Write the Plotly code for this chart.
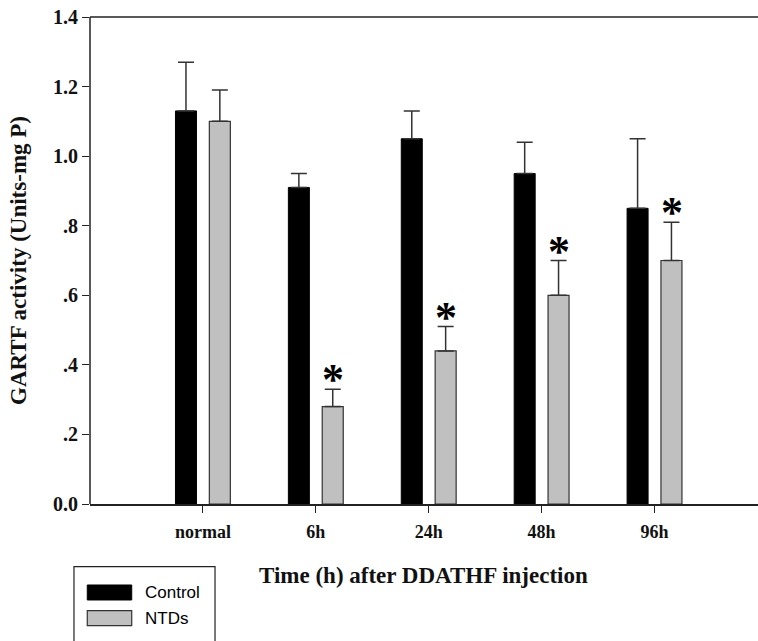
import plotly.graph_objects as go

categories = ["normal", "6h", "24h", "48h", "96h"]
control = [1.13, 0.91, 1.05, 0.95, 0.85]
control_err = [0.14, 0.04, 0.08, 0.09, 0.20]
ntds = [1.10, 0.28, 0.44, 0.60, 0.70]
ntds_err = [0.09, 0.05, 0.07, 0.10, 0.11]
significance = ["", "*", "*", "*", "*"]
y_tickvals = [0.0, 0.2, 0.4, 0.6, 0.8, 1.0, 1.2, 1.4]
y_ticktext = ["0.0", ".2", ".4", ".6", ".8", "1.0", "1.2", "1.4"]

SERIF = "Liberation Serif, Times New Roman, serif"
SANS = "Liberation Sans, Arial, sans-serif"

fig = go.Figure()
fig.add_trace(go.Bar(
    x=categories, y=control, name="Control",
    marker=dict(color="#000000", line=dict(color="#000000", width=1)),
    error_y=dict(type="data", symmetric=False, array=control_err,
                 arrayminus=[0] * len(control_err),
                 color="#333333", thickness=1.5, width=8),
    showlegend=False,
))
fig.add_trace(go.Bar(
    x=categories, y=ntds, name="NTDs",
    marker=dict(color="#c0c0c0", line=dict(color="#333333", width=1.2)),
    error_y=dict(type="data", symmetric=False, array=ntds_err,
                 arrayminus=[0] * len(ntds_err),
                 color="#333333", thickness=1.5, width=8),
    showlegend=False,
))

annotations = []
for cat, v, e, s in zip(categories, ntds, ntds_err, significance):
    if s:
        annotations.append(dict(
            x=cat, y=v + e, xref="x", yref="y", text="<b>" + s + "</b>",
            showarrow=False, xshift=17, yanchor="bottom", yshift=-17,
            font=dict(family=SERIF, size=44, color="#000000"),
        ))

# x-axis title (centred on the visible frame)
annotations.append(dict(
    x=0.477, y=-0.1458, xref="paper", yref="paper",
    text="<b>Time (h) after DDATHF injection</b>", showarrow=False,
    xanchor="center", yanchor="middle",
    font=dict(family=SERIF, size=23, color="#111111"),
))

# frame lines and manual legend (paper coordinates)
shapes = [
    dict(type="line", xref="paper", yref="paper", x0=0, x1=1.0, y0=1, y1=1,
         line=dict(color="#222222", width=1.5)),
    dict(type="line", xref="paper", yref="paper", x0=0, x1=0, y0=0, y1=1,
         line=dict(color="#222222", width=1.5)),
    dict(type="rect", xref="paper", yref="paper", x0=-0.0229, x1=0.1786,
         y0=-0.35, y1=-0.1287, line=dict(color="#222222", width=1.2),
         fillcolor="white", layer="above"),
    dict(type="rect", xref="paper", yref="paper", x0=-0.0039, x1=0.0596,
         y0=-0.1971, y1=-0.1663, line=dict(color="#000000", width=1),
         fillcolor="#000000", layer="above"),
    dict(type="rect", xref="paper", yref="paper", x0=-0.0039, x1=0.0596,
         y0=-0.2499, y1=-0.2191, line=dict(color="#333333", width=1.2),
         fillcolor="#c0c0c0", layer="above"),
]
annotations += [
    dict(x=0.0753, y=-0.1817, xref="paper", yref="paper", text="Control",
         showarrow=False, xanchor="left", yanchor="middle",
         font=dict(family=SANS, size=17, color="#000000")),
    dict(x=0.0753, y=-0.2341, xref="paper", yref="paper", text="NTDs",
         showarrow=False, xanchor="left", yanchor="middle",
         font=dict(family=SANS, size=17, color="#000000")),
]

fig.update_layout(
    width=790, height=641,
    margin=dict(l=90, r=0, t=17, b=137, autoexpand=False),
    paper_bgcolor="white", plot_bgcolor="white",
    barmode="group", bargap=0.4, bargroupgap=0.38,
    annotations=annotations, shapes=shapes,
    showlegend=False,
    xaxis=dict(
        type="category", range=[-1.0, 5.2],
        showline=True, linecolor="#222222", linewidth=1.5, mirror=False,
        ticks="outside", ticklen=7, tickwidth=1.3, tickcolor="#222222",
        showgrid=False, zeroline=False, ticklabelstandoff=4,
        tickfont=dict(family=SERIF, size=18, color="#111111", weight="bold"),
    ),
    yaxis=dict(
        range=[0, 1.4], tickvals=y_tickvals, ticktext=y_ticktext,
        showline=False, mirror=False,
        ticks="outside", ticklen=7, tickwidth=1.3, tickcolor="#222222",
        showgrid=False, zeroline=False,
        tickfont=dict(family=SERIF, size=20, color="#111111", weight="bold"),
        title=dict(text="<b>GARTF activity (Units-mg P)</b>",
                   font=dict(family=SERIF, size=23, color="#111111"),
                   standoff=19),
    ),
)

fig.write_html("out.html",
               config={"displayModeBar": False},
               post_script="document.body.style.margin='0';"
                           "document.body.style.overflow='hidden';"
                           "document.documentElement.style.overflow='hidden';")
